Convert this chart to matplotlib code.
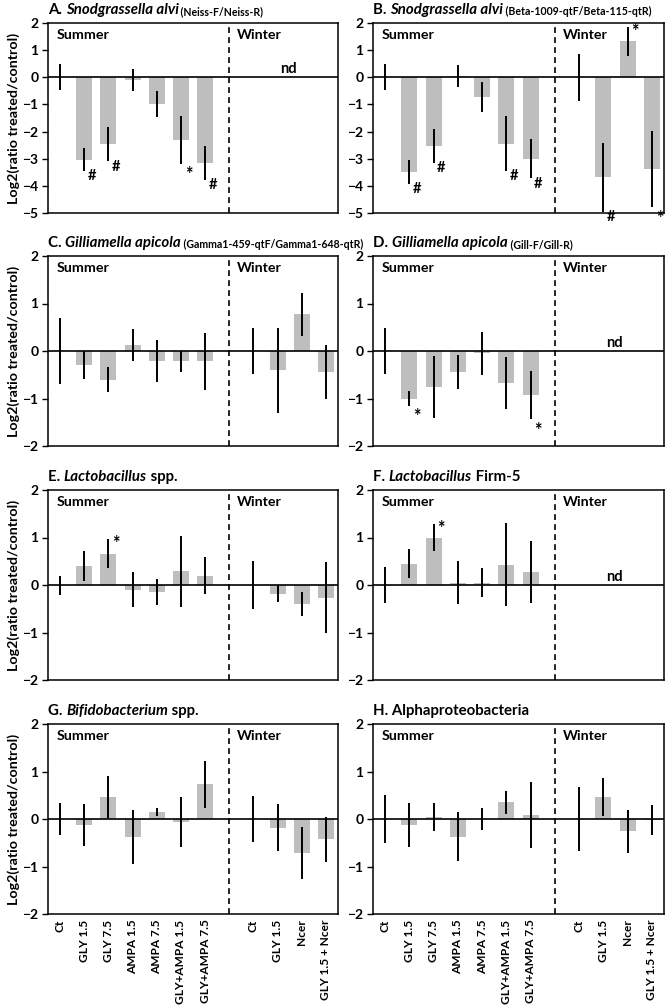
import matplotlib
matplotlib.use("Agg")
import matplotlib.pyplot as plt
from matplotlib.transforms import blended_transform_factory

plt.rcParams['font.family'] = ['Lato', 'DejaVu Sans']
plt.rcParams['font.weight'] = 'bold'

summer_labels = ["Ct", "GLY 1.5", "GLY 7.5", "AMPA 1.5", "AMPA 7.5",
                 "GLY+AMPA 1.5", "GLY+AMPA 7.5"]
winter_labels = ["Ct", "GLY 1.5", "Ncer", "GLY 1.5 + Ncer"]

# A. Snodgrassella alvi (Neiss)
a_summer = [0, -3.03, -2.46, -0.10, -0.98, -2.31, -3.15]
a_summer_err = [0.48, 0.41, 0.64, 0.41, 0.48, 0.87, 0.63]
a_summer_sig = ["", "#", "#", "", "", "*", "#"]

# B. Snodgrassella alvi (Beta)
b_summer = [0, -3.48, -2.52, 0.05, -0.73, -2.44, -3.00]
b_summer_err = [0.48, 0.44, 0.62, 0.40, 0.54, 1.00, 0.72]
b_summer_sig = ["", "#", "#", "", "", "#", "#"]
b_winter = [0, -3.69, 1.32, -3.38]
b_winter_err = [0.87, 1.26, 0.52, 1.40]
b_winter_sig = ["", "#", "*", "*"]

# C. Gilliamella apicola (Gamma1)
c_summer = [0, -0.29, -0.60, 0.13, -0.21, -0.22, -0.22]
c_summer_err = [0.69, 0.30, 0.27, 0.33, 0.45, 0.23, 0.60]
c_winter = [0, -0.41, 0.77, -0.45]
c_winter_err = [0.49, 0.89, 0.46, 0.57]

# D. Gilliamella apicola (Gill)
d_summer = [0, -1.00, -0.75, -0.44, -0.05, -0.68, -0.93]
d_summer_err = [0.48, 0.15, 0.65, 0.36, 0.46, 0.55, 0.50]
d_summer_sig = ["", "*", "", "", "", "", "*"]

# E. Lactobacillus spp.
e_summer = [0, 0.40, 0.66, -0.10, -0.15, 0.29, 0.20]
e_summer_err = [0.20, 0.32, 0.30, 0.37, 0.27, 0.75, 0.38]
e_summer_sig = ["", "", "*", "", "", "", ""]
e_winter = [0, -0.18, -0.40, -0.27]
e_winter_err = [0.51, 0.18, 0.26, 0.75]

# F. Lactobacillus Firm-5
f_summer = [0, 0.45, 1.00, 0.05, 0.05, 0.43, 0.28]
f_summer_err = [0.37, 0.31, 0.28, 0.45, 0.30, 0.88, 0.65]
f_summer_sig = ["", "", "*", "", "", "", ""]

# G. Bifidobacterium spp.
g_summer = [0, -0.13, 0.47, -0.38, 0.15, -0.06, 0.73]
g_summer_err = [0.33, 0.44, 0.44, 0.57, 0.08, 0.52, 0.50]
g_winter = [0, -0.18, -0.71, -0.43]
g_winter_err = [0.49, 0.49, 0.55, 0.48]

# H. Alphaproteobacteria
h_summer = [0, -0.13, 0.04, -0.37, 0, 0.35, 0.09]
h_summer_err = [0.50, 0.46, 0.30, 0.52, 0.23, 0.24, 0.69]
h_winter = [0, 0.46, -0.26, -0.02]
h_winter_err = [0.68, 0.40, 0.45, 0.31]

summer_pos = [0, 1, 2, 3, 4, 5, 6]
winter_pos = [8, 9, 10, 11]
grey = "#BEBEBE"
TS = 10.8   # title size
PS = 7.6    # primer text size


def draw_group(ax, pos, vals, errs, sig):
    ax.bar(pos, vals, width=0.66, color=grey, zorder=1)
    ax.errorbar(pos, vals, yerr=errs, fmt="none", ecolor="black",
                elinewidth=1.4, capsize=0, zorder=3)
    if sig is None:
        return
    for p, v, e, s in zip(pos, vals, errs, sig):
        if not s:
            continue
        fs = 10.5 if s == "#" else 13
        if v >= 0:
            ax.annotate(s, (p, v + e), xytext=(5.5, -3), textcoords="offset points",
                        ha="center", va="center", fontsize=fs, fontweight="bold")
        else:
            dy = -4 if s == "#" else -8
            ax.annotate(s, (p, v - e), xytext=(5.5, dy), textcoords="offset points",
                        ha="center", va="center", fontsize=fs, fontweight="bold")


def title(ax, parts):
    t = ax.text(0, 1.03, parts[0][0], transform=ax.transAxes, ha="left",
                va="bottom", fontsize=parts[0][2], fontweight="bold",
                fontstyle=parts[0][1])
    for txt, style, size in parts[1:]:
        t = ax.annotate(txt, xy=(1, 0), xycoords=t, ha="left", va="bottom",
                        fontsize=size, fontweight="bold", fontstyle=style)


def panel(ax, ylim, parts, s, s_err, s_sig=None, w=None, w_err=None, w_sig=None,
          ylabel=False, xlabels=False):
    draw_group(ax, summer_pos, s, s_err, s_sig)
    if w is not None:
        draw_group(ax, winter_pos, w, w_err, w_sig)
    else:
        ax.annotate("nd", (9.45, 0), xytext=(0, 1), textcoords="offset points",
                    ha="center", va="bottom", fontsize=10.5, fontweight="bold")
    ax.axhline(0, color="black", lw=1.2, zorder=2)
    ax.axvline(7, color="black", lw=1.2, linestyle=(0, (3.5, 2.5)), zorder=2)
    ax.set_xlim(-0.5, 11.5)
    ax.set_ylim(*ylim)
    ax.set_yticks(range(ylim[0], ylim[1] + 1))
    ax.tick_params(axis="y", labelsize=10, length=4, width=1, pad=3)
    for lab in ax.get_yticklabels():
        lab.set_fontweight("bold")
    tr = blended_transform_factory(ax.transData, ax.transAxes)
    ax.text(-0.15, 0.97, "Summer", transform=tr, ha="left", va="top",
            fontsize=10.3, fontweight="bold")
    ax.text(7.33, 0.97, "Winter", transform=tr, ha="left", va="top",
            fontsize=10.3, fontweight="bold")
    if xlabels:
        ax.set_xticks(summer_pos + winter_pos)
        ax.set_xticklabels(summer_labels + winter_labels, rotation=90,
                           fontsize=8.6, fontweight="bold")
        ax.tick_params(axis="x", length=0, pad=4)
    else:
        ax.set_xticks([])
    for sp in ax.spines.values():
        sp.set_linewidth(1.1)
        sp.set_color("black")
    if ylabel:
        ax.set_ylabel("Log2(ratio treated/control)", fontsize=10.3,
                      fontweight="bold")
        ax.yaxis.set_label_coords(-0.097, 0.5)
    title(ax, parts)


fig = plt.figure(figsize=(6.66, 10.06), dpi=100)
lefts = [48 / 666, 373 / 666]
widths = [290 / 666, 291 / 666]
tops = [23, 256, 490, 724]
h = 190 / 1006
axes = []
for r in range(4):
    row = []
    for c in range(2):
        b = 1 - (tops[r] + 190) / 1006
        row.append(fig.add_axes([lefts[c], b, widths[c], h]))
    axes.append(row)

panel(axes[0][0], (-5, 2),
      [("A. ", "normal", TS), ("Snodgrassella alvi", "italic", TS),
       (" (Neiss-F/Neiss-R)", "normal", PS)],
      a_summer, a_summer_err, a_summer_sig, ylabel=True)
panel(axes[0][1], (-5, 2),
      [("B. ", "normal", TS), ("Snodgrassella alvi", "italic", TS),
       (" (Beta-1009-qtF/Beta-115-qtR)", "normal", PS)],
      b_summer, b_summer_err, b_summer_sig, b_winter, b_winter_err, b_winter_sig)
panel(axes[1][0], (-2, 2),
      [("C. ", "normal", TS), ("Gilliamella apicola", "italic", TS),
       (" (Gamma1-459-qtF/Gamma1-648-qtR)", "normal", PS)],
      c_summer, c_summer_err, None, c_winter, c_winter_err, ylabel=True)
panel(axes[1][1], (-2, 2),
      [("D. ", "normal", TS), ("Gilliamella apicola", "italic", TS),
       (" (Gill-F/Gill-R)", "normal", PS)],
      d_summer, d_summer_err, d_summer_sig)
panel(axes[2][0], (-2, 2),
      [("E. ", "normal", TS), ("Lactobacillus", "italic", TS),
       (" spp.", "normal", TS)],
      e_summer, e_summer_err, e_summer_sig, e_winter, e_winter_err, ylabel=True)
panel(axes[2][1], (-2, 2),
      [("F. ", "normal", TS), ("Lactobacillus", "italic", TS),
       (" Firm-5", "normal", TS)],
      f_summer, f_summer_err, f_summer_sig)
panel(axes[3][0], (-2, 2),
      [("G. ", "normal", TS), ("Bifidobacterium", "italic", TS),
       (" spp.", "normal", TS)],
      g_summer, g_summer_err, None, g_winter, g_winter_err, ylabel=True,
      xlabels=True)
panel(axes[3][1], (-2, 2),
      [("H. Alphaproteobacteria", "normal", TS)],
      h_summer, h_summer_err, None, h_winter, h_winter_err, xlabels=True)

fig.savefig("out.png", dpi=100)
